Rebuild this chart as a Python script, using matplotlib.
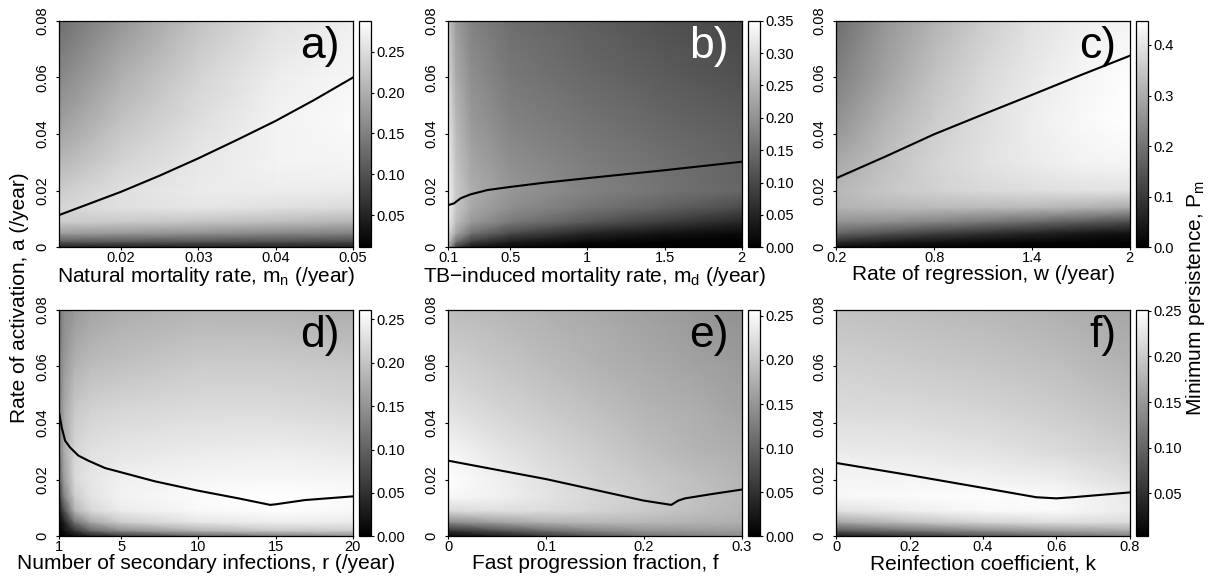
import numpy as np
import matplotlib
matplotlib.use('Agg')
import matplotlib.pyplot as plt

plt.rcParams['font.family'] = ['Liberation Sans', 'DejaVu Sans']
plt.rcParams['mathtext.fontset'] = 'custom'
plt.rcParams['mathtext.rm'] = 'Liberation Sans'
plt.rcParams['mathtext.it'] = 'Liberation Sans:italic'

# shared y axis: rate of activation (grid rows used by every panel)
act_grid = [0, 0.002, 0.005, 0.009, 0.014, 0.02, 0.03, 0.045, 0.06, 0.08]
a_ticks = [0, 0.02, 0.04, 0.06, 0.08]
a_ticklabels = ['0', '0.02', '0.04', '0.06', '0.08']

# panel a) natural mortality rate
mn_grid = [0.012, 0.02, 0.03, 0.04, 0.05]
mn_pm = [
    [0.044, 0.044, 0.044, 0.044, 0.044],
    [0.110, 0.108, 0.102, 0.097, 0.091],
    [0.182, 0.177, 0.169, 0.160, 0.152],
    [0.232, 0.229, 0.224, 0.216, 0.207],
    [0.243, 0.254, 0.260, 0.254, 0.249],
    [0.232, 0.254, 0.266, 0.268, 0.266],
    [0.210, 0.241, 0.263, 0.274, 0.277],
    [0.180, 0.221, 0.252, 0.274, 0.282],
    [0.158, 0.202, 0.241, 0.268, 0.279],
    [0.130, 0.174, 0.221, 0.254, 0.271],
]
mn_line_x = [0.012, 0.02, 0.025, 0.03, 0.035, 0.04, 0.045, 0.05]
mn_line_y = [0.0114, 0.0196, 0.0253, 0.0314, 0.0379, 0.0446, 0.052, 0.0599]
mn_ticks = [0.02, 0.03, 0.04, 0.05]
mn_ticklabels = ['0.02', '0.03', '0.04', '0.05']
mn_cbar = [0.05, 0.10, 0.15, 0.20, 0.25]
mn_range = (0.0107, 0.288)

# panel b) TB-induced mortality rate
md_grid = [0.1, 0.15, 0.25, 0.5, 1.0, 1.5, 2.0]
md_pm = [
    [0.228, 0.088, 0.028, 0.011, 0.000, 0.000, 0.000],
    [0.273, 0.158, 0.088, 0.042, 0.014, 0.004, 0.000],
    [0.298, 0.228, 0.158, 0.105, 0.053, 0.028, 0.014],
    [0.322, 0.259, 0.210, 0.168, 0.123, 0.084, 0.053],
    [0.333, 0.273, 0.231, 0.196, 0.161, 0.133, 0.105],
    [0.333, 0.277, 0.238, 0.207, 0.179, 0.158, 0.140],
    [0.326, 0.266, 0.228, 0.196, 0.172, 0.154, 0.137],
    [0.312, 0.252, 0.210, 0.179, 0.158, 0.140, 0.126],
    [0.294, 0.235, 0.196, 0.165, 0.144, 0.126, 0.112],
    [0.273, 0.214, 0.179, 0.151, 0.130, 0.112, 0.098],
]
md_line_x = [0.1, 0.137, 0.18, 0.245, 0.353, 0.5, 0.722, 1.0, 1.285, 1.5, 2.0]
md_line_y = [0.0149, 0.0155, 0.0173, 0.0187, 0.0202, 0.0213, 0.0228, 0.0244, 0.026, 0.0272, 0.0302]
md_ticks = [0.1, 0.5, 1, 1.5, 2]
md_ticklabels = ['0.1', '0.5', '1', '1.5', '2']
md_cbar = [0.00, 0.05, 0.10, 0.15, 0.20, 0.25, 0.30, 0.35]
md_range = (0.0, 0.35)

# panel c) rate of regression
w_grid = [0.2, 0.5, 0.8, 1.1, 1.4, 1.7, 2.0]
w_pm = [
    [0.018, 0.009, 0.004, 0.000, 0.000, 0.000, 0.000],
    [0.081, 0.054, 0.036, 0.022, 0.013, 0.009, 0.004],
    [0.179, 0.148, 0.116, 0.090, 0.067, 0.045, 0.031],
    [0.260, 0.251, 0.233, 0.211, 0.188, 0.161, 0.134],
    [0.314, 0.323, 0.327, 0.327, 0.323, 0.314, 0.296],
    [0.323, 0.349, 0.367, 0.381, 0.390, 0.394, 0.394],
    [0.296, 0.336, 0.372, 0.394, 0.412, 0.426, 0.430],
    [0.255, 0.314, 0.358, 0.390, 0.417, 0.435, 0.448],
    [0.224, 0.287, 0.340, 0.381, 0.408, 0.430, 0.444],
    [0.193, 0.264, 0.314, 0.358, 0.394, 0.417, 0.430],
]
w_line_x = [0.2, 0.5, 0.8, 1.1, 1.4, 1.7, 2.0]
w_line_y = [0.0244, 0.032, 0.0399, 0.0469, 0.0538, 0.0608, 0.0676]
w_ticks = [0.2, 0.8, 1.4, 2]
w_ticklabels = ['0.2', '0.8', '1.4', '2']
w_cbar = [0.0, 0.1, 0.2, 0.3, 0.4]
w_range = (0.0, 0.448)

# panel d) number of secondary infections
r_grid = [1, 1.3, 2, 3, 5, 10, 15, 20]
r_pm = [
    [0.000, 0.005, 0.013, 0.031, 0.057, 0.099, 0.125, 0.144],
    [0.003, 0.016, 0.052, 0.104, 0.144, 0.183, 0.204, 0.209],
    [0.010, 0.031, 0.117, 0.170, 0.209, 0.235, 0.243, 0.240],
    [0.031, 0.078, 0.183, 0.219, 0.240, 0.253, 0.258, 0.253],
    [0.065, 0.131, 0.209, 0.232, 0.248, 0.256, 0.261, 0.256],
    [0.099, 0.157, 0.222, 0.235, 0.245, 0.251, 0.253, 0.251],
    [0.125, 0.172, 0.219, 0.230, 0.235, 0.240, 0.243, 0.238],
    [0.131, 0.170, 0.204, 0.214, 0.219, 0.224, 0.224, 0.219],
    [0.131, 0.157, 0.183, 0.193, 0.198, 0.209, 0.209, 0.204],
    [0.117, 0.141, 0.157, 0.167, 0.177, 0.185, 0.183, 0.177],
]
r_line_x = [1, 1.15, 1.37, 1.69, 2.23, 2.88, 3.96, 5, 7.2, 10, 12.6, 14.65, 15, 16.9, 20]
r_line_y = [0.0432, 0.0385, 0.0338, 0.0314, 0.0285, 0.0267, 0.0241, 0.0226, 0.0194,
            0.0161, 0.0134, 0.0111, 0.0113, 0.0128, 0.0141]
r_ticks = [1, 5, 10, 15, 20]
r_ticklabels = ['1', '5', '10', '15', '20']
r_cbar = [0.00, 0.05, 0.10, 0.15, 0.20, 0.25]
r_range = (0.0, 0.261)

# panel e) fast progression fraction
f_grid = [0, 0.05, 0.1, 0.15, 0.2, 0.25, 0.3]
f_pm = [
    [0.008, 0.026, 0.057, 0.087, 0.113, 0.129, 0.141],
    [0.051, 0.082, 0.111, 0.134, 0.149, 0.154, 0.157],
    [0.141, 0.162, 0.180, 0.185, 0.185, 0.180, 0.175],
    [0.218, 0.224, 0.221, 0.213, 0.203, 0.193, 0.182],
    [0.249, 0.242, 0.229, 0.216, 0.206, 0.195, 0.185],
    [0.254, 0.242, 0.226, 0.213, 0.203, 0.193, 0.182],
    [0.247, 0.231, 0.218, 0.206, 0.193, 0.182, 0.175],
    [0.226, 0.213, 0.203, 0.193, 0.182, 0.175, 0.164],
    [0.211, 0.200, 0.190, 0.180, 0.172, 0.164, 0.157],
    [0.190, 0.185, 0.177, 0.170, 0.162, 0.154, 0.146],
]
f_line_x = [0, 0.1, 0.2, 0.228, 0.235, 0.242, 0.269, 0.3]
f_line_y = [0.0267, 0.0202, 0.0126, 0.0111, 0.0126, 0.0134, 0.0149, 0.0165]
f_ticks = [0, 0.1, 0.2, 0.3]
f_ticklabels = ['0', '0.1', '0.2', '0.3']
f_cbar = [0.00, 0.05, 0.10, 0.15, 0.20, 0.25]
f_range = (0.0, 0.257)

# panel f) reinfection coefficient
k_grid = [0, 0.2, 0.4, 0.6, 0.8]
k_pm = [
    [0.028, 0.053, 0.082, 0.107, 0.127],
    [0.090, 0.115, 0.139, 0.157, 0.167],
    [0.164, 0.189, 0.209, 0.219, 0.216],
    [0.221, 0.234, 0.244, 0.246, 0.231],
    [0.244, 0.246, 0.249, 0.246, 0.229],
    [0.241, 0.241, 0.239, 0.234, 0.219],
    [0.231, 0.229, 0.224, 0.216, 0.204],
    [0.216, 0.214, 0.209, 0.201, 0.189],
    [0.206, 0.201, 0.196, 0.189, 0.177],
    [0.191, 0.187, 0.182, 0.174, 0.164],
]
k_line_x = [0, 0.2, 0.4, 0.545, 0.6, 0.645, 0.718, 0.8]
k_line_y = [0.0259, 0.0216, 0.0171, 0.0138, 0.0134, 0.0138, 0.0146, 0.0155]
k_ticks = [0, 0.2, 0.4, 0.6, 0.8]
k_ticklabels = ['0', '0.2', '0.4', '0.6', '0.8']
k_cbar = [0.05, 0.10, 0.15, 0.20, 0.25]
k_range = (0.003, 0.251)

panels = [
    dict(x=mn_grid, z=mn_pm, lx=mn_line_x, ly=mn_line_y, ticks=mn_ticks,
         labels=mn_ticklabels, cbar=mn_cbar, fmt='%.2f', rng=mn_range,
         xlabel=r'Natural mortality rate, m$_\mathregular{n}$ (/year)', tag='a)', tagcol='black'),
    dict(x=md_grid, z=md_pm, lx=md_line_x, ly=md_line_y, ticks=md_ticks,
         labels=md_ticklabels, cbar=md_cbar, fmt='%.2f', rng=md_range,
         xlabel='TB\u2212induced mortality rate, m$_\\mathregular{d}$ (/year)', tag='b)', tagcol='white'),
    dict(x=w_grid, z=w_pm, lx=w_line_x, ly=w_line_y, ticks=w_ticks,
         labels=w_ticklabels, cbar=w_cbar, fmt='%.1f', rng=w_range,
         xlabel='Rate of regression, w (/year)', tag='c)', tagcol='black'),
    dict(x=r_grid, z=r_pm, lx=r_line_x, ly=r_line_y, ticks=r_ticks,
         labels=r_ticklabels, cbar=r_cbar, fmt='%.2f', rng=r_range,
         xlabel='Number of secondary infections, r (/year)', tag='d)', tagcol='black'),
    dict(x=f_grid, z=f_pm, lx=f_line_x, ly=f_line_y, ticks=f_ticks,
         labels=f_ticklabels, cbar=f_cbar, fmt='%.2f', rng=f_range,
         xlabel='Fast progression fraction, f', tag='e)', tagcol='black'),
    dict(x=k_grid, z=k_pm, lx=k_line_x, ly=k_line_y, ticks=k_ticks,
         labels=k_ticklabels, cbar=k_cbar, fmt='%.2f', rng=k_range,
         xlabel='Reinfection coefficient, k', tag='f)', tagcol='black'),
]

fig = plt.figure(figsize=(12.11, 5.81), dpi=100)

lefts = [0.049, 0.3702, 0.6906]
bottoms = [0.5744, 0.0769]
w, h = 0.2423, 0.390

for i, p in enumerate(panels):
    left = lefts[i % 3]
    bottom = bottoms[i // 3]
    ax = fig.add_axes([left, bottom, w, h])
    cax = fig.add_axes([left + w + 0.0055, bottom, 0.0099, h])

    X, Y = np.meshgrid(p['x'], act_grid)
    mesh = ax.pcolormesh(X, Y, np.array(p['z']), shading='gouraud', cmap='gray',
                         vmin=p['rng'][0], vmax=p['rng'][1], rasterized=True)
    ax.plot(p['lx'], p['ly'], color='black', lw=1.5)

    ax.set_xlim(p['x'][0], p['x'][-1])
    ax.set_ylim(0, 0.08)
    ax.set_xticks(p['ticks'])
    ax.set_xticklabels(p['labels'])
    ax.set_yticks(a_ticks)
    ax.set_yticklabels(a_ticklabels, rotation=90, va='center')
    ax.tick_params(axis='x', length=2.5, width=0.8, pad=0, labelsize=10.5)
    ax.tick_params(axis='y', length=2.5, width=0.8, pad=5, labelsize=10.5)
    ax.set_xlabel(p['xlabel'], fontsize=15, labelpad=0.5)
    for s in ax.spines.values():
        s.set_linewidth(0.9)

    ax.text(0.955, 0.975, p['tag'], transform=ax.transAxes, ha='right', va='top',
            fontsize=32, color=p['tagcol'])

    cb = fig.colorbar(mesh, cax=cax, ticks=p['cbar'], format=p['fmt'])
    cb.outline.set_linewidth(0.9)
    cax.tick_params(length=2.5, width=0.8, pad=1, labelsize=10.5)

fig.text(0.016, 0.487, 'Rate of activation, a (/year)', rotation=90,
         ha='center', va='center', fontsize=15)
fig.text(0.987, 0.487, r'Minimum persistence, P$_\mathregular{m}$', rotation=90,
         ha='center', va='center', fontsize=15)

fig.savefig('out.png', dpi=100)
